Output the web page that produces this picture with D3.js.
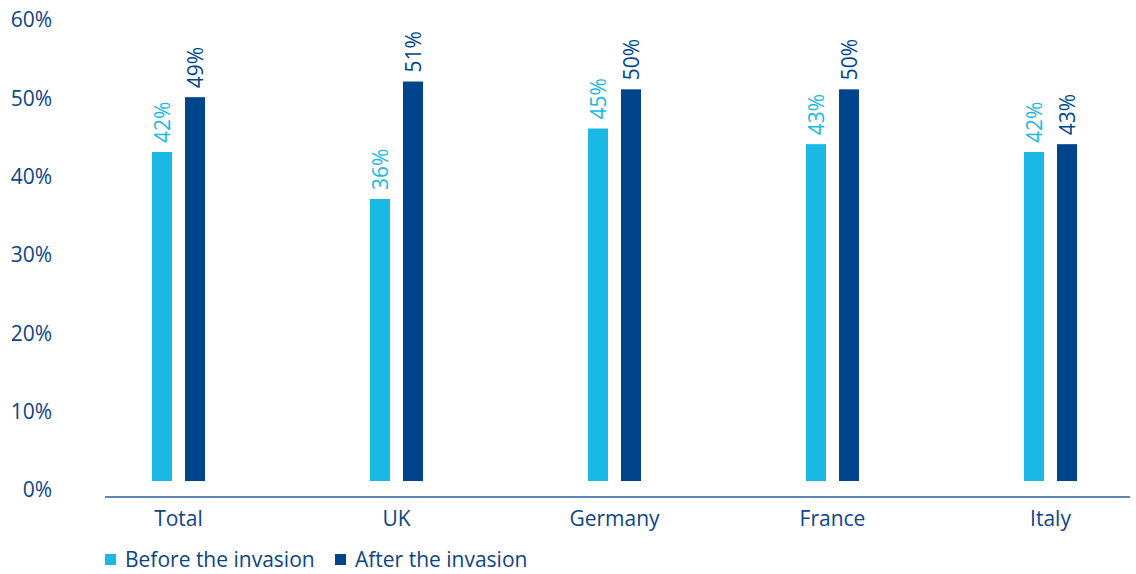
<!DOCTYPE html>
<html><head><meta charset="utf-8">
<script src="https://cdn.jsdelivr.net/npm/d3@7/dist/d3.min.js"></script>
<style>
body{margin:0;background:#fff;}
text{font-family:"Open Sans",sans-serif;}
</style></head>
<body><svg id="c" width="1136" height="574"></svg>
<script>
const categories = ["Total","UK","Germany","France","Italy"];
const seriesNames = ["Before the invasion","After the invasion"];
const before = [42,36,45,43,42];
const after = [49,51,50,50,43];
const yTicks = [0,10,20,30,40,50,60];
const colors = ["#19b8e5","#00458c"];
const textColor = "#0d4486";
const fs = "21px";

const svg = d3.select("#c");
const x = d3.scaleBand().domain(categories).range([69.5,1159.5]);
const y = d3.scaleLinear().domain([0,60]).range([481,11]);
const barW = 20, gap = 13;

// y axis labels
const yAxis = svg.append("g").attr("transform","translate(52,9)")
  .call(d3.axisLeft(y).tickValues(yTicks).tickFormat(d=>d+"%").tickSize(0).tickPadding(0));
yAxis.select(".domain").remove();
yAxis.selectAll("text").attr("fill",textColor).style("font-size",fs).style("font-family","'Open Sans',sans-serif");

// x axis line
svg.append("line").attr("x1",105).attr("x2",1130).attr("y1",497).attr("y2",497)
  .attr("stroke","#2a5d9a").attr("stroke-width",1.5);

// category labels
svg.append("g").selectAll("text").data(categories).join("text")
  .attr("x",d=>x(d)+x.bandwidth()/2).attr("y",526)
  .attr("text-anchor","middle").attr("fill",textColor).style("font-size",fs)
  .text(d=>d);

const series = [before, after];
series.forEach((vals,si)=>{
  const g = svg.append("g");
  const cx = (d,i)=> x(categories[i]) + x.bandwidth()/2 + (si===0 ? -(gap/2+barW) : gap/2);
  g.selectAll("rect").data(vals).join("rect")
    .attr("x",(d,i)=>cx(d,i)).attr("width",barW)
    .attr("y",d=>y(d)).attr("height",d=>y(0)-y(d))
    .attr("fill",colors[si]);
  g.selectAll("text").data(vals).join("text")
    .attr("transform",(d,i)=>`translate(${cx(d,i)+barW/2+7.5},${y(d)-9}) rotate(-90)`)
    .attr("fill",colors[si]).style("font-size",fs)
    .text(d=>d+"%");
});

// legend
const leg = svg.append("g");
const legX = [105,335];
seriesNames.forEach((n,i)=>{
  leg.append("rect").attr("x",legX[i]).attr("y",554).attr("width",11).attr("height",11).attr("fill",colors[i]);
  leg.append("text").attr("x",legX[i]+20).attr("y",567).attr("fill",textColor).style("font-size",fs).text(n);
});
</script></body></html>
